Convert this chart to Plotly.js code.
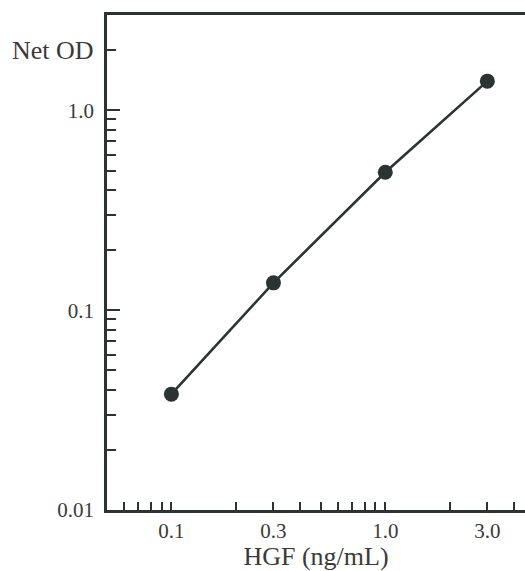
<!DOCTYPE html>
<html>
<head>
<meta charset="utf-8">
<script src="https://cdn.plot.ly/plotly-3.0.1.min.js"></script>
<style>
html,body{margin:0;padding:0;background:#fff;}
#chart{width:525px;height:571px;}
</style>
</head>
<body>
<div id="chart"></div>
<script>
// Data
var hgf = [0.1, 0.3, 1.0, 3.0];          // ng/mL
var netOD = [0.038, 0.137, 0.49, 1.40];  // Net OD

// Tick definitions
var xTickVals = [0.1, 0.3, 1.0, 3.0];
var xTickText = ["0.1", "0.3", "1.0", "3.0"];
var xMinorVals = [0.06, 0.07, 0.08, 0.09, 0.2, 0.4, 0.5, 0.6, 0.7, 0.8, 0.9, 2, 4];
var yTickVals = [0.01, 0.1, 1.0];
var yTickText = ["0.01", "0.1", "1.0"];
var yMinorVals = [0.02, 0.03, 0.04, 0.05, 0.06, 0.07, 0.08, 0.09,
                  0.2, 0.3, 0.4, 0.5, 0.6, 0.7, 0.8, 0.9, 2];

var ink = "#2b3432";
var textCol = "#3a3a3a";
var serif = "'Liberation Serif', 'DejaVu Serif', serif";

var trace = {
  x: hgf, y: netOD,
  type: "scatter", mode: "lines+markers",
  line: {color: ink, width: 2.6},
  marker: {color: ink, size: 15},
  showlegend: false, hoverinfo: "skip"
};

var layout = {
  width: 525, height: 571,
  margin: {l: 107, r: 0, t: 15, b: 61},
  paper_bgcolor: "#fff", plot_bgcolor: "#fff",
  font: {family: serif, color: textCol},
  xaxis: {
    type: "log",
    range: [Math.log10(0.05), Math.log10(4.5)],
    tickmode: "array", tickvals: xTickVals, ticktext: xTickText,
    ticks: "inside", ticklen: 8, tickwidth: 2, tickcolor: ink,
    minor: {tickmode: "array", tickvals: xMinorVals, ticks: "inside", ticklen: 8, tickwidth: 2, tickcolor: ink, showgrid: false},
    showgrid: false, zeroline: false,
    showline: true, linecolor: ink, linewidth: 2.6, mirror: true,
    tickfont: {size: 21, family: serif, color: textCol},
    ticklabelstandoff: 0,
    title: {text: "HGF (ng/mL)", font: {size: 26, family: serif, color: textCol}, standoff: 4}
  },
  yaxis: {
    type: "log",
    range: [-2, Math.log10(3)],
    tickmode: "array", tickvals: yTickVals, ticktext: yTickText,
    ticks: "inside", ticklen: 13, tickwidth: 2, tickcolor: ink,
    minor: {tickmode: "array", tickvals: yMinorVals, ticks: "inside", ticklen: 9, tickwidth: 2, tickcolor: ink, showgrid: false},
    showgrid: false, zeroline: false,
    showline: true, linecolor: ink, linewidth: 2.8, mirror: false,
    tickfont: {size: 21, family: serif, color: textCol},
    ticklabelstandoff: 6
  },
  annotations: [{
    text: "Net OD", xref: "paper", yref: "y",
    x: 0, y: Math.log10(2), xanchor: "right", yanchor: "middle",
    xshift: -11, showarrow: false,
    font: {size: 26, family: serif, color: textCol}
  }]
};

Plotly.newPlot("chart", [trace], layout, {displayModeBar: false, staticPlot: true});
</script>
</body>
</html>
